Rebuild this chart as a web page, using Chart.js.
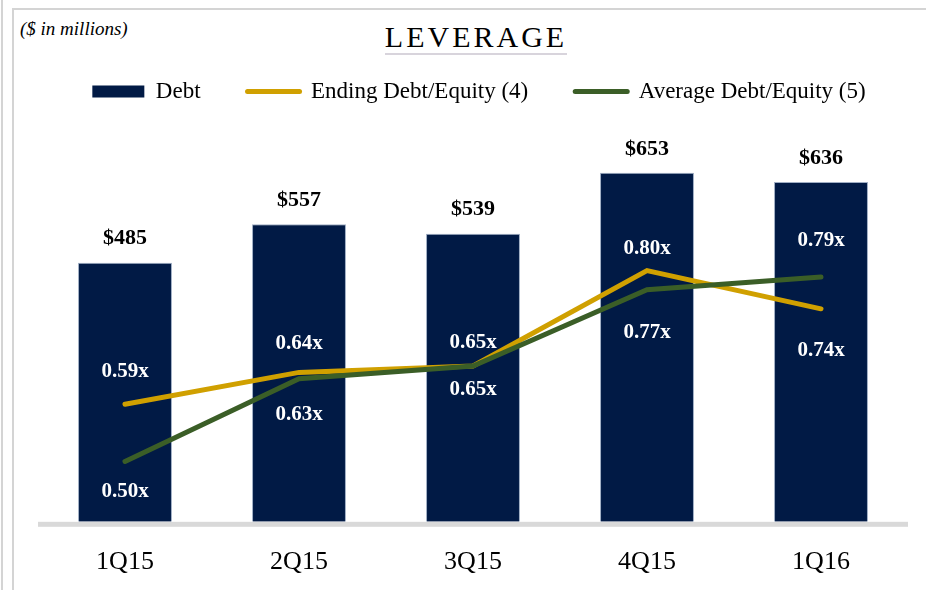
<!DOCTYPE html>
<html>
<head>
<meta charset="utf-8">
<script src="https://cdn.jsdelivr.net/npm/chart.js@4"></script>
<style>
  body { margin: 0; background: #fff; width: 926px; height: 590px; overflow: hidden; position: relative; font-family: "Liberation Serif", serif; color: #000; }
  .frame-outer { position: absolute; left: 1px; top: 0; width: 2px; height: 590px; background: #d4d4d4; }
  .frame-inner { position: absolute; left: 12px; top: 8px; right: 0; height: 590px; border-left: 2px solid #d4d4d4; border-top: 2px solid #d4d4d4; }
  .units { position: absolute; left: 20px; top: 18px; font-style: italic; font-size: 19px; }
  .title { position: absolute; left: 0; width: 952px; top: 20px; text-align: center; font-size: 30px; letter-spacing: 3px; }
  .title span { border-bottom: 2px solid #d8d4dc; }
  #leverageChart { position: absolute; left: 12px; top: 0; }
</style>
</head>
<body>
<div class="frame-outer"></div>
<div class="frame-inner"></div>
<div class="units">($ in millions)</div>
<div class="title"><span>LEVERAGE</span></div>
<canvas id="leverageChart" width="914" height="616"></canvas>
<script>
const quarters = ['1Q15', '2Q15', '3Q15', '4Q15', '1Q16'];
const debt = [485, 557, 539, 653, 636];
const endingDebtEquity = [0.59, 0.64, 0.65, 0.80, 0.74];
const averageDebtEquity = [0.50, 0.63, 0.65, 0.77, 0.79];

// label placement (px from the point, negative = above)
const endingLabelShift = [-33, -29, -23, -22, 42];
const averageLabelShift = [30, 36, 24, 43, -36];

const navy = '#011a45';
const gold = '#d0a000';
const green = '#3b5e27';
const serif = '"Liberation Serif", serif';

const valueLabels = {
    id: 'valueLabels',
    afterLayout(chart) {
        // legend sits a little right of the plot centre
        chart.legend.left += 6;
        chart.legend.right += 6;
    },
    beforeDatasetsDraw(chart) {
        const a = chart.chartArea;
        chart.ctx.save();
        chart.ctx.fillStyle = '#d9d9d9';
        chart.ctx.fillRect(a.left, a.bottom, a.right - a.left, 5);
        chart.ctx.restore();
    },
    afterDatasetsDraw(chart) {
        const ctx = chart.ctx;
        ctx.save();
        ctx.textAlign = 'center';
        ctx.textBaseline = 'middle';

        ctx.font = 'bold 22px ' + serif;
        ctx.fillStyle = '#000';
        chart.getDatasetMeta(0).data.forEach((bar, i) => {
            ctx.fillText('$' + debt[i], bar.x, bar.y - 24);
        });

        ctx.font = 'bold 21px ' + serif;
        ctx.fillStyle = '#fff';
        chart.getDatasetMeta(1).data.forEach((pt, i) => {
            ctx.fillText(endingDebtEquity[i].toFixed(2) + 'x', pt.x, pt.y + endingLabelShift[i]);
        });
        chart.getDatasetMeta(2).data.forEach((pt, i) => {
            ctx.fillText(averageDebtEquity[i].toFixed(2) + 'x', pt.x, pt.y + averageLabelShift[i]);
        });
        ctx.restore();
    }
};

const ctx = document.getElementById('leverageChart').getContext('2d');
new Chart(ctx, {
    type: 'bar',
    data: {
        labels: quarters,
        datasets: [{
            label: 'Debt',
            data: debt,
            backgroundColor: navy,
            borderColor: 'rgba(150,165,190,0.9)',
            borderWidth: 1,
            barPercentage: 0.54,
            categoryPercentage: 1,
            yAxisID: 'y',
            order: 3
        }, {
            type: 'line',
            label: 'Ending Debt/Equity (4)',
            data: endingDebtEquity,
            borderColor: gold,
            borderWidth: 5,
            borderCapStyle: 'round',
            pointRadius: 0,
            fill: false,
            yAxisID: 'y2',
            order: 2
        }, {
            type: 'line',
            label: 'Average Debt/Equity (5)',
            data: averageDebtEquity,
            borderColor: green,
            borderWidth: 5,
            borderCapStyle: 'round',
            pointRadius: 0,
            fill: false,
            yAxisID: 'y2',
            order: 1
        }]
    },
    options: {
        responsive: false,
        animation: false,
        layout: { padding: { top: 33, left: 26, right: 18, bottom: 13 } },
        plugins: {
            tooltip: { enabled: false },
            legend: {
                position: 'top',
                labels: {
                    usePointStyle: true,
                    pointStyleWidth: 52,
                    boxHeight: 12,
                    padding: 47,
                    color: '#000',
                    font: { family: serif, size: 23 },
                    generateLabels: () => [
                        { text: 'Debt', pointStyle: 'rect', fillStyle: navy, strokeStyle: navy, lineWidth: 0, datasetIndex: 0 },
                        { text: 'Ending Debt/Equity (4)', pointStyle: 'line', fillStyle: gold, strokeStyle: gold, lineWidth: 5, lineCap: 'round', datasetIndex: 1 },
                        { text: 'Average Debt/Equity (5)', pointStyle: 'line', fillStyle: green, strokeStyle: green, lineWidth: 5, lineCap: 'round', datasetIndex: 2 }
                    ]
                }
            }
        },
        scales: {
            x: {
                grid: { display: false, drawTicks: false },
                border: { display: false },
                ticks: { color: '#000', font: { family: serif, size: 26 }, padding: 25 }
            },
            y: { display: false, min: 0, max: 765 },
            y2: { display: false, position: 'right', min: 0.405, max: 1.048 }
        }
    },
    plugins: [valueLabels]
});
</script>
</body>
</html>
